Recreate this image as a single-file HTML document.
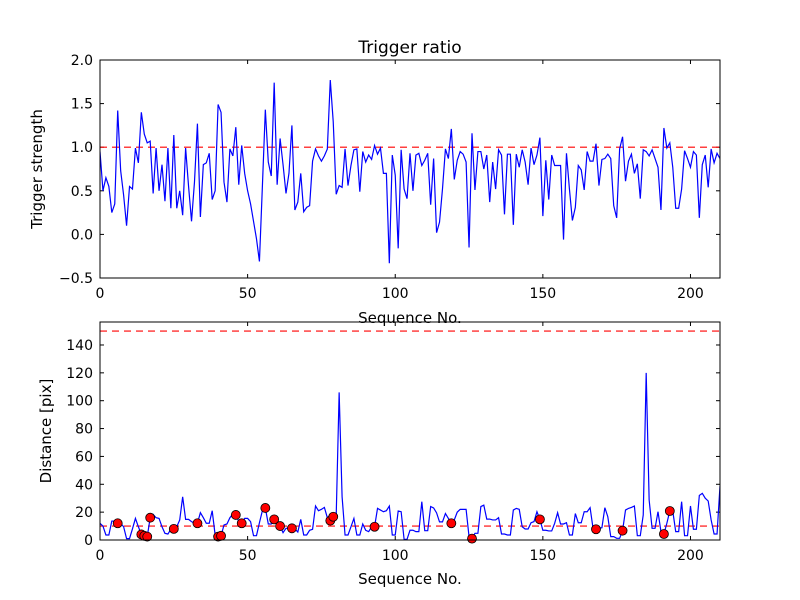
<!DOCTYPE html>
<html><head><meta charset="utf-8"><style>
html,body{margin:0;padding:0;background:#fff;}
svg{display:block;font-family:"DejaVu Sans","Liberation Sans",sans-serif;}
</style></head><body>
<svg id="chart" width="800" height="600" viewBox="0 0 800 600" xmlns="http://www.w3.org/2000/svg">
<rect x="0" y="0" width="800" height="600" fill="#fff"/>
</svg>
<script>
const ratioValues = [0.95,0.5,0.65,0.55,0.25,0.35,1.42,0.73,0.45,0.1,0.55,0.52,0.99,0.82,1.4,1.15,1.05,1.07,0.47,0.99,0.5,0.8,0.38,0.99,0.3,1.14,0.3,0.5,0.22,0.99,0.55,0.15,0.6,1.27,0.2,0.8,0.82,0.93,0.4,0.5,1.49,1.4,0.6,0.37,0.98,0.9,1.23,0.57,1.02,0.7,0.5,0.35,0.15,-0.05,-0.31,0.55,1.43,0.83,0.67,1.74,0.57,1.1,0.8,0.47,0.7,1.25,0.28,0.37,
0.7,0.26,0.31,0.33,0.84,0.98,0.9,0.84,0.9,0.98,1.77,1.29,0.46,0.56,0.54,0.98,0.56,0.79,0.97,0.98,0.49,0.95,0.83,0.91,0.86,1.02,0.92,0.99,0.7,0.7,-0.33,0.91,0.68,-0.16,0.97,0.52,0.41,0.93,0.5,0.91,0.93,0.79,0.85,0.93,0.34,0.87,0.02,0.14,0.52,0.98,0.87,1.21,0.63,0.85,0.95,0.92,0.83,-0.15,1.16,0.51,0.95,0.95,0.75,0.91,0.37,0.83,0.52,0.97,0.91,0.23,0.92,0.92,0.11,0.92,
0.77,0.97,0.83,0.57,0.99,0.8,0.91,1.11,0.21,0.85,0.4,0.91,0.79,0.79,0.79,-0.06,0.93,0.52,0.16,0.31,0.79,0.74,0.51,0.95,0.84,0.84,1.04,0.56,0.86,0.87,0.92,0.87,0.33,0.19,0.98,1.12,0.61,0.84,0.92,0.7,0.81,0.41,0.97,0.95,0.9,0.97,0.87,0.77,0.28,1.22,0.99,1.05,0.77,0.3,0.3,0.52,0.96,0.87,0.77,0.95,0.91,0.19,0.8,0.91,0.54,0.98,0.82,0.93,0.87,0.85];
const distanceValues = [12,10,3.6,3.6,13.6,13.6,12,12,9.5,1,1,8,15.5,9.5,4,3,2.4,16,18.4,16,15.5,9.5,4.8,4.3,7.7,8,9.5,14.4,31,14.8,14.8,13.2,12,12,19.6,16,12,12,21,3.6,2.4,3,10.8,11.5,16,18.7,18,13.2,12,15.5,15.5,13.2,3.1,3.1,12.4,21,23,11.5,11.5,14.8,11.5,10,5.3,8.4,8.4,8.4,8,5.7,
14.8,3.6,3.6,7,7.7,24.4,21,22,23.4,16,13.9,16.7,17,106,31,3.6,3.6,9.5,15.5,3.6,3.6,11.5,7,6,9.5,9.5,22.7,21.5,20.3,21,24.4,3.6,3.6,20.8,20.3,0.5,0.5,7,7,6,6,27.5,6.7,6.7,24,23,19.5,13,13,19,15.5,12,14.4,20,22,22,22,2.4,1,4.8,4.8,24,25,15,15,14.4,14.4,16,4.3,4.3,3.6,3.6,21.5,22.7,
22,9.5,7.9,7.9,12.4,13.2,20.3,14.8,7,7,6.5,6.5,12,19.6,11.5,11.5,12.4,3.6,3.6,19,12.4,12.4,20.3,20.3,23.2,8.4,7.7,8.4,8.8,23.2,16.7,2.4,2.4,1.2,1.2,6.7,21.5,22.7,23.4,24.4,3.1,3.1,18,120,28.7,8.4,8.4,20.3,6,4.3,12,20.8,20.8,6,6,27.5,3.1,3.1,24.4,7.7,7.7,32,33.5,30,28,14.4,4.3,4.3,38.8,9.5];
const xTicks = [0,50,100,150,200];
const ratioTicks = [-0.5,0.0,0.5,1.0,1.5,2.0];
const distTicks = [0,20,40,60,80,100,120,140];
const ratioThreshold = 1.0;
const distThresholds = [150,10];

const NS = "http://www.w3.org/2000/svg";
const svgEl = document.getElementById('chart');
function mk(tag, attrs, parent){const e=document.createElementNS(NS,tag);for(const k in attrs)e.setAttribute(k,attrs[k]);(parent||svgEl).appendChild(e);return e;}
const X0=100,X1=720,XMAX=210;
const xs = v => X0 + v/XMAX*(X1-X0);
const axTop = {y0:60,y1:278,min:-0.5,max:2.0};
const axBot = {y0:322,y1:540,min:0,max:156.5};
const ys = (ax,v) => ax.y1 - (v-ax.min)/(ax.max-ax.min)*(ax.y1-ax.y0);

function clip(id, ax){const cp=mk('clipPath',{id:id});mk('rect',{x:X0,y:ax.y0,width:X1-X0,height:ax.y1-ax.y0},cp);}
clip('cTop',axTop); clip('cBot',axBot);

function axes(ax, ticks, fmt, name){
  const g = mk('g',{});
  
  
  xTicks.forEach(t=>{
    const x=xs(t);
    mk('line',{x1:x,x2:x,y1:ax.y1,y2:ax.y1-4,stroke:'#000','stroke-width':1},g);
    mk('line',{x1:x,x2:x,y1:ax.y0,y2:ax.y0+4,stroke:'#000','stroke-width':1},g);
    const tx=mk('text',{x:x,y:ax.y1+20,'text-anchor':'middle','font-size':14},g);
    tx.textContent=t;
    
    
  });
  ticks.forEach(t=>{
    const y=ys(ax,t);
    mk('line',{x1:X0,x2:X0+4,y1:y,y2:y,stroke:'#000','stroke-width':1},g);
    mk('line',{x1:X1,x2:X1-4,y1:y,y2:y,stroke:'#000','stroke-width':1},g);
    const tx=mk('text',{x:X0-7,y:y+5,'text-anchor':'end','font-size':14},g);
    tx.textContent=fmt(t);
    
    
  });
  return g;
}
function frame(ax,name){
  const r=mk('rect',{x:X0,y:ax.y0,width:X1-X0,height:ax.y1-ax.y0,fill:'none',stroke:'#000','stroke-width':1});
  
  
}

// Top chart
axes(axTop, ratioTicks, t=>(t<0?'\u2212':'')+Math.abs(t).toFixed(1), 'ratio');
const thr=mk('line',{x1:X0,x2:X1,y1:ys(axTop,ratioThreshold),y2:ys(axTop,ratioThreshold),stroke:'#f00','stroke-width':1.2,'stroke-dasharray':'7,5'});


const rl=mk('polyline',{points:ratioValues.map((v,i)=>xs(i)+','+ys(axTop,v)).join(' '),fill:'none',stroke:'#00f','stroke-width':1.2,'clip-path':'url(#cTop)'});


frame(axTop,'ratio');

// Bottom chart
axes(axBot, distTicks, t=>String(t), 'distance');
distThresholds.forEach(v=>{
  const l=mk('line',{x1:X0,x2:X1,y1:ys(axBot,v),y2:ys(axBot,v),stroke:'#f00','stroke-width':1.2,'stroke-dasharray':'7,5'});
  
  
});
const dl=mk('polyline',{points:distanceValues.map((v,i)=>xs(i)+','+ys(axBot,v)).join(' '),fill:'none',stroke:'#00f','stroke-width':1.2,'clip-path':'url(#cBot)'});


const n=Math.min(ratioValues.length,distanceValues.length);
for(let i=0;i<n;i++){
  if(ratioValues[i]>ratioThreshold && i<=XMAX){
    const c=mk('circle',{cx:xs(i),cy:ys(axBot,distanceValues[i]),r:4.5,fill:'#f00',stroke:'#000','stroke-width':0.8});
    
    
  }
}
frame(axBot,'distance');

// Labels
function label(txt,attrs,name){const t=mk('text',attrs);t.textContent=txt;}
label('Trigger ratio',{x:410,y:53,'text-anchor':'middle','font-size':17},'chart-title');
label('Sequence No.',{x:410,y:323,'text-anchor':'middle','font-size':15},'top-x-axis-title');
label('Sequence No.',{x:410,y:584,'text-anchor':'middle','font-size':15},'bottom-x-axis-title');
label('Trigger strength',{x:42,y:169,'text-anchor':'middle','font-size':15,transform:'rotate(-90 42 169)'},'top-y-axis-title');
label('Distance [pix]',{x:51,y:431,'text-anchor':'middle','font-size':15,transform:'rotate(-90 51 431)'},'bottom-y-axis-title');
</script>
</body></html>
